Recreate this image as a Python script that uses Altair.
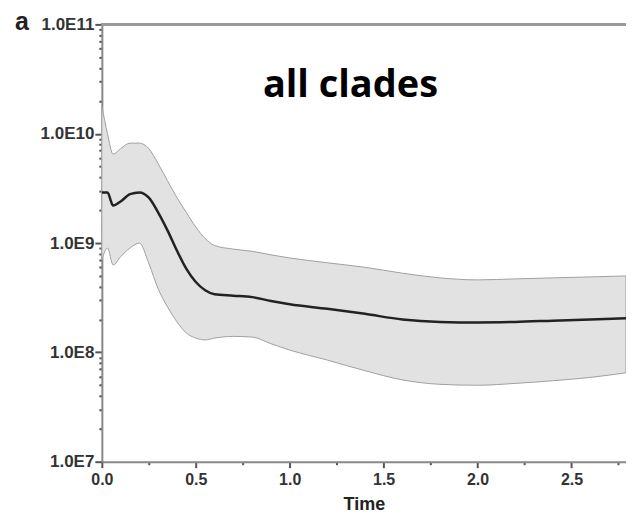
import altair as alt
import pandas as pd

time = [0, 0.03, 0.06, 0.1, 0.15, 0.2, 0.25, 0.3, 0.35, 0.4, 0.45, 0.5, 0.55, 0.6,
        0.7, 0.8, 0.9, 1.0, 1.2, 1.4, 1.6, 1.8, 2.0, 2.2, 2.4, 2.6, 2.79]
median = [2.9e9, 2.9e9, 2.2e9, 2.4e9, 2.8e9, 2.9e9, 2.6e9, 1.9e9, 1.3e9, 8.5e8, 5.8e8,
          4.4e8, 3.7e8, 3.4e8, 3.3e8, 3.2e8, 2.95e8, 2.75e8, 2.5e8, 2.25e8, 2.0e8,
          1.9e8, 1.88e8, 1.9e8, 1.95e8, 2.0e8, 2.05e8]
upper = [1.8e10, 1.0e10, 6.5e9, 7.3e9, 8.2e9, 8.2e9, 7.3e9, 5.3e9, 3.7e9, 2.6e9, 1.9e9,
         1.4e9, 1.1e9, 9.5e8, 8.8e8, 8.4e8, 7.8e8, 7.3e8, 6.6e8, 6.0e8, 5.3e8, 4.8e8,
         4.6e8, 4.7e8, 4.8e8, 4.9e8, 5.0e8]
lower = [7e8, 9e8, 6.3e8, 7.5e8, 9e8, 1.0e9, 6.5e8, 3.8e8, 2.6e8, 1.9e8, 1.5e8, 1.35e8,
         1.3e8, 1.35e8, 1.4e8, 1.38e8, 1.2e8, 1.05e8, 8.5e7, 6.8e7, 5.6e7, 5.1e7, 5.0e7,
         5.2e7, 5.5e7, 5.9e7, 6.5e7]

x_ticks = [0, 0.25, 0.5, 0.75, 1.0, 1.25, 1.5, 1.75, 2.0, 2.25, 2.5, 2.75]
y_ticks = [m * 10 ** e for e in range(7, 11) for m in range(1, 10)] + [1e11]
panel_label = ["a"]
title_text = ["all clades"]

df = pd.DataFrame({"time": time, "median": median, "upper": upper, "lower": lower})

FONT = "Liberation Sans"
W, H = 525, 438

is_major = "abs(log(datum.value)/LN10 - round(log(datum.value)/LN10)) < 0.001"
x_major = "abs(datum.value*2 - round(datum.value*2)) < 0.001"

xenc = alt.X(
    "time:Q",
    scale=alt.Scale(domain=[0, 2.79], nice=False, zero=False),
    axis=alt.Axis(
        title="Time", values=x_ticks,
        labelExpr=f"{x_major} ? format(datum.value, '.1f') : ''",
        tickSize={"condition": {"test": x_major, "value": 6}, "value": 3},
        labelFont=FONT, labelFontSize=16, labelFontWeight="bold", labelColor="#333",
        titleFont=FONT, titleFontSize=18, titleFontWeight="bold", titleColor="#222",
        labelPadding=4, titlePadding=8, labelFlush=False,
    ),
)
yscale = alt.Scale(type="log", domain=[1e7, 1e11], nice=False)
yaxis = alt.Axis(
    title=None, values=y_ticks,
    labelExpr=f"{is_major} ? '1.0E' + round(log(datum.value)/LN10) : ''",
    tickSize={"condition": {"test": is_major, "value": 7}, "value": 3},
    labelFont=FONT, labelFontSize=17, labelFontWeight="bold", labelColor="#333",
    labelPadding=1, labelFlush=False,
)

band = alt.Chart(df).mark_area(
    color="#e2e2e2", stroke="#a0a0a0", strokeWidth=1, interpolate="monotone", opacity=1
).encode(x=xenc, y=alt.Y("lower:Q", scale=yscale, axis=yaxis), y2="upper:Q")

line = alt.Chart(df).mark_line(
    color="#222222", strokeWidth=2.5, interpolate="monotone"
).encode(x=xenc, y=alt.Y("median:Q", scale=yscale, axis=yaxis))

top = alt.Chart(df).mark_rule(color="#999999", strokeWidth=2).encode(
    x=alt.value(0), x2=alt.value(W), y=alt.value(0)
)

title = alt.Chart(pd.DataFrame({"t": title_text})).mark_text(
    font="Open Sans", fontSize=38, fontWeight="bold", color="#000", baseline="alphabetic"
).encode(text="t:N", x=alt.value(249), y=alt.value(73))

plabel = alt.Chart(pd.DataFrame({"t": panel_label})).mark_text(
    font=FONT, fontSize=25, fontWeight="bold", color="#222", baseline="alphabetic"
).encode(text="t:N", x=alt.value(-80), y=alt.value(6))

chart = alt.layer(band, line, top, title, plabel).properties(
    width=W, height=H,
    autosize=alt.AutoSizeParams(type="none"),
    padding={"left": 94, "top": 16, "right": 0, "bottom": 57},
).configure_view(stroke=None).configure_axis(
    domainColor="#888888", domainWidth=2, tickColor="#555555", tickWidth=2, grid=False
)

chart.save("out.html", embed_options={"renderer": "svg", "actions": False})
